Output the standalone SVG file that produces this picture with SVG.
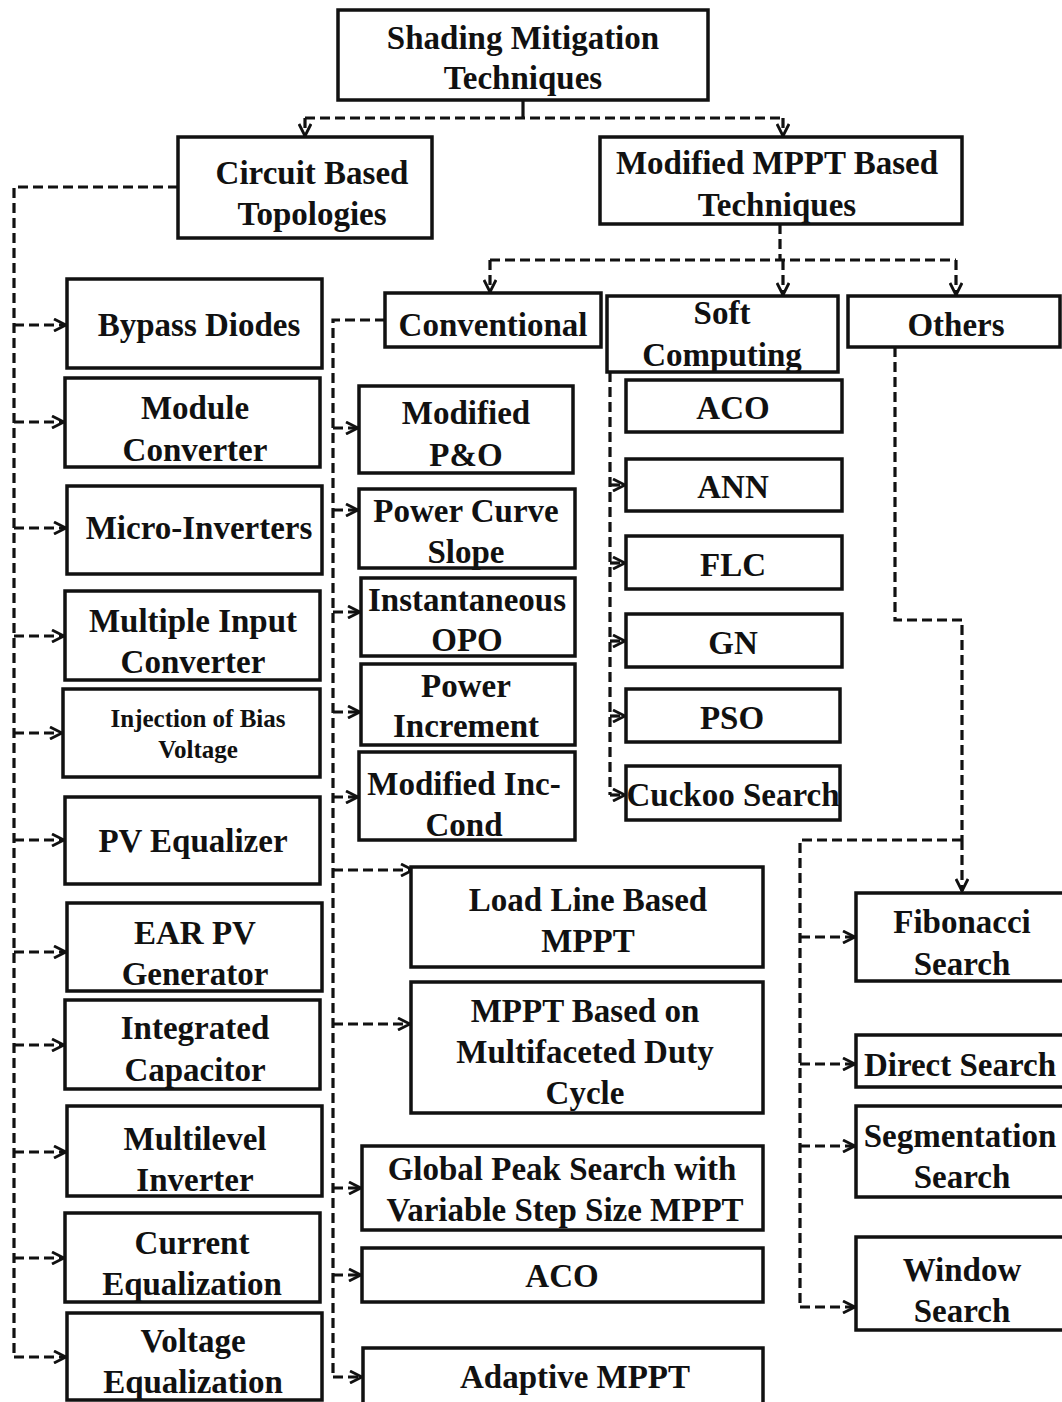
<svg xmlns="http://www.w3.org/2000/svg" width="1062" height="1402" viewBox="0 0 1062 1402">
<style>
.b{fill:#fff;stroke:#111;stroke-width:3.5}
.t{font-family:"Liberation Serif","Times New Roman",serif;font-weight:bold;font-size:33px;fill:#111;text-anchor:middle}
.s{font-size:25px}
.c{fill:none;stroke:#111;stroke-width:3.2;stroke-dasharray:10,5}
.a{fill:none;stroke:#111;stroke-width:3.2;stroke-dasharray:10,5;marker-end:url(#ar)}
.sl{fill:none;stroke:#111;stroke-width:3.2}
</style>
<defs>
<marker id="ar" viewBox="0 0 14 14" refX="13" refY="7" markerWidth="14" markerHeight="14" markerUnits="userSpaceOnUse" orient="auto">
<path d="M1,1 L13,7 L1,13" fill="none" stroke="#111" stroke-width="2.8"/>
</marker>
</defs>
<rect width="1062" height="1402" fill="#fff"/>
<g id="connectors">
<path class="sl" d="M523,100 V118"/>
<path class="c" d="M305,118 H783"/>
<path class="a" d="M305,118 V136"/>
<path class="a" d="M783,118 V136"/>
<path class="c" d="M178,187 H14 V1357"/>
<path class="a" d="M14,325 H66"/>
<path class="a" d="M14,422 H64"/>
<path class="a" d="M14,528 H66"/>
<path class="a" d="M14,636 H64"/>
<path class="a" d="M14,733 H62"/>
<path class="a" d="M14,840 H64"/>
<path class="a" d="M14,952 H66"/>
<path class="a" d="M14,1045 H64"/>
<path class="a" d="M14,1152 H66"/>
<path class="a" d="M14,1258 H64"/>
<path class="a" d="M14,1357 H66"/>
<path class="c" d="M780,224 V260"/>
<path class="c" d="M490,260 H956"/>
<path class="a" d="M490,260 V292"/>
<path class="a" d="M783,260 V295"/>
<path class="a" d="M956,260 V295"/>
<path class="c" d="M385,320 H333 V1377"/>
<path class="a" d="M333,428 H358"/>
<path class="a" d="M333,510 H358"/>
<path class="a" d="M333,612 H360"/>
<path class="a" d="M333,712 H360"/>
<path class="a" d="M333,797 H358"/>
<path class="a" d="M333,870 H413"/>
<path class="a" d="M333,1024 H410"/>
<path class="a" d="M333,1188 H361"/>
<path class="a" d="M333,1275 H361"/>
<path class="a" d="M333,1377 H362"/>
<path class="c" d="M610,372 V795"/>
<path class="a" d="M610,485 H625"/>
<path class="a" d="M610,563 H625"/>
<path class="a" d="M610,641 H625"/>
<path class="a" d="M610,716 H625"/>
<path class="a" d="M610,795 H625"/>
<path class="c" d="M895,347 V620 H962 V840"/>
<path class="a" d="M962,840 V891"/>
<path class="c" d="M962,840 H800 V1307"/>
<path class="a" d="M800,937 H855"/>
<path class="a" d="M800,1064 H855"/>
<path class="a" d="M800,1146 H855"/>
<path class="a" d="M800,1307 H855"/>
</g>
<g id="n-root"><rect class="b" x="338" y="10" width="370" height="90"/><text class="t" x="523" y="49">Shading Mitigation</text><text class="t" x="523" y="89">Techniques</text></g>
<g id="n-circuit"><rect class="b" x="178" y="137" width="254" height="101"/><text class="t" x="312" y="184">Circuit Based</text><text class="t" x="312" y="225">Topologies</text></g>
<g id="n-modified"><rect class="b" x="600" y="137" width="362" height="87"/><text class="t" x="777" y="174">Modified MPPT Based</text><text class="t" x="777" y="216">Techniques</text></g>
<g id="n-bypass"><rect class="b" x="67" y="279" width="255" height="89"/><text class="t" x="199" y="336">Bypass Diodes</text></g>
<g id="n-module"><rect class="b" x="65" y="378" width="255" height="89"/><text class="t" x="195" y="419">Module</text><text class="t" x="195" y="461">Converter</text></g>
<g id="n-micro"><rect class="b" x="67" y="486" width="255" height="88"/><text class="t" x="199" y="539">Micro-Inverters</text></g>
<g id="n-multiple"><rect class="b" x="65" y="591" width="255" height="89"/><text class="t" x="193" y="632">Multiple Input</text><text class="t" x="193" y="673">Converter</text></g>
<g id="n-injection"><rect class="b" x="63" y="689" width="257" height="88"/><text class="t s" x="198" y="727">Injection of Bias</text><text class="t s" x="198" y="758">Voltage</text></g>
<g id="n-pveq"><rect class="b" x="65" y="797" width="255" height="87"/><text class="t" x="193" y="852">PV Equalizer</text></g>
<g id="n-ear"><rect class="b" x="67" y="903" width="255" height="88"/><text class="t" x="195" y="944">EAR PV</text><text class="t" x="195" y="985">Generator</text></g>
<g id="n-intcap"><rect class="b" x="65" y="1000" width="255" height="89"/><text class="t" x="195" y="1039">Integrated</text><text class="t" x="195" y="1081">Capacitor</text></g>
<g id="n-multilevel"><rect class="b" x="67" y="1106" width="255" height="90"/><text class="t" x="195" y="1150">Multilevel</text><text class="t" x="195" y="1191">Inverter</text></g>
<g id="n-current"><rect class="b" x="65" y="1213" width="255" height="89"/><text class="t" x="192" y="1254">Current</text><text class="t" x="192" y="1295">Equalization</text></g>
<g id="n-voltage"><rect class="b" x="67" y="1313" width="255" height="87"/><text class="t" x="193" y="1352">Voltage</text><text class="t" x="193" y="1393">Equalization</text></g>
<g id="n-conventional"><rect class="b" x="385" y="293" width="216" height="54"/><text class="t" x="493" y="336">Conventional</text></g>
<g id="n-soft"><rect class="b" x="607" y="296" width="231" height="76"/><text class="t" x="722" y="324">Soft</text><text class="t" x="722" y="366">Computing</text></g>
<g id="n-others"><rect class="b" x="848" y="296" width="212" height="51"/><text class="t" x="956" y="336">Others</text></g>
<g id="n-mpo"><rect class="b" x="359" y="386" width="214" height="87"/><text class="t" x="466" y="424">Modified</text><text class="t" x="466" y="466">P&amp;O</text></g>
<g id="n-pcs"><rect class="b" x="359" y="489" width="216" height="79"/><text class="t" x="466" y="522">Power Curve</text><text class="t" x="466" y="563">Slope</text></g>
<g id="n-iopo"><rect class="b" x="361" y="578" width="214" height="78"/><text class="t" x="467" y="611">Instantaneous</text><text class="t" x="467" y="651">OPO</text></g>
<g id="n-pinc"><rect class="b" x="361" y="664" width="214" height="81"/><text class="t" x="466" y="697">Power</text><text class="t" x="466" y="737">Increment</text></g>
<g id="n-minc"><rect class="b" x="359" y="752" width="216" height="88"/><text class="t" x="464" y="795">Modified Inc-</text><text class="t" x="464" y="836">Cond</text></g>
<g id="n-loadline"><rect class="b" x="411" y="867" width="352" height="100"/><text class="t" x="588" y="911">Load Line Based</text><text class="t" x="588" y="952">MPPT</text></g>
<g id="n-multifaceted"><rect class="b" x="411" y="982" width="352" height="131"/><text class="t" x="585" y="1022">MPPT Based on</text><text class="t" x="585" y="1063">Multifaceted Duty</text><text class="t" x="585" y="1104">Cycle</text></g>
<g id="n-gps"><rect class="b" x="362" y="1146" width="401" height="84"/><text class="t" x="562" y="1180">Global Peak Search with</text><text class="t" x="565" y="1221">Variable Step Size MPPT</text></g>
<g id="n-aco2"><rect class="b" x="362" y="1248" width="401" height="54"/><text class="t" x="562" y="1287">ACO</text></g>
<g id="n-adaptive"><rect class="b" x="363" y="1348" width="400" height="60"/><text class="t" x="575" y="1388">Adaptive MPPT</text></g>
<g id="n-aco"><rect class="b" x="626" y="380" width="216" height="52"/><text class="t" x="733" y="419">ACO</text></g>
<g id="n-ann"><rect class="b" x="626" y="459" width="216" height="52"/><text class="t" x="733" y="498">ANN</text></g>
<g id="n-flc"><rect class="b" x="626" y="536" width="216" height="53"/><text class="t" x="733" y="576">FLC</text></g>
<g id="n-gn"><rect class="b" x="626" y="614" width="216" height="53"/><text class="t" x="733" y="654">GN</text></g>
<g id="n-pso"><rect class="b" x="626" y="689" width="214" height="53"/><text class="t" x="732" y="729">PSO</text></g>
<g id="n-cuckoo"><rect class="b" x="626" y="766" width="214" height="54"/><text class="t" x="733" y="806">Cuckoo Search</text></g>
<g id="n-fibonacci"><rect class="b" x="856" y="893" width="210" height="88"/><text class="t" x="962" y="933">Fibonacci</text><text class="t" x="962" y="975">Search</text></g>
<g id="n-direct"><rect class="b" x="856" y="1035" width="210" height="52"/><text class="t" x="960" y="1076">Direct Search</text></g>
<g id="n-segmentation"><rect class="b" x="856" y="1106" width="210" height="91"/><text class="t" x="960" y="1147">Segmentation</text><text class="t" x="962" y="1188">Search</text></g>
<g id="n-window"><rect class="b" x="856" y="1237" width="210" height="93"/><text class="t" x="962" y="1281">Window</text><text class="t" x="962" y="1322">Search</text></g>
</svg>
